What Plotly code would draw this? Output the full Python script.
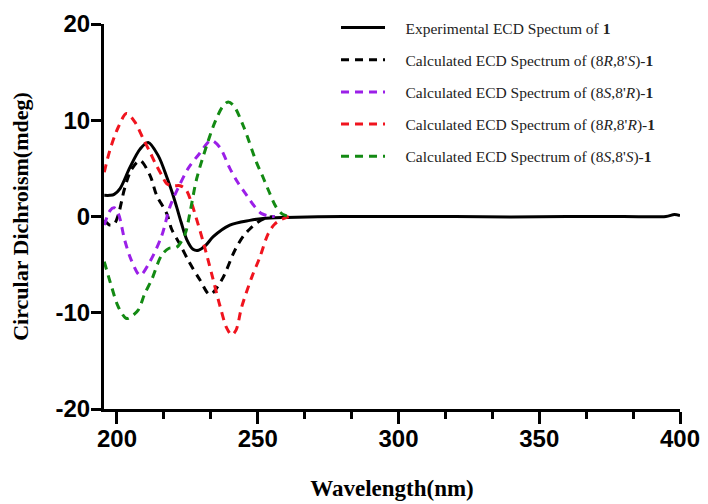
import plotly.graph_objects as go

# ---- data ----
wl_exp = [195.5, 197.5, 199.0, 201.1, 204.6, 208.2, 211.1, 214.7, 217.7, 219.5, 221.2, 222.8, 224.8,
          227.0, 229.0, 231.5, 234.2, 240.1, 247.2, 251.9, 260, 280, 300, 320, 340, 360, 380, 395, 398, 400]
cd_exp = [2.2, 2.2, 2.3, 2.9, 5.1, 7.0, 7.7, 6.3, 4.1, 2.6, 1.0, -0.6, -2.4,
          -3.4, -3.5, -3.0, -2.1, -0.9, -0.4, -0.2, -0.1, 0.0, 0.0, 0.0, -0.05, 0.0, 0.0, 0.0, 0.2, 0.1]

wl_rs = [195.5, 197.5, 199.0, 200.5, 202.8, 205.2, 208.2, 211.7, 214.1, 217.7, 219.4, 222.4, 225.6,
         229.5, 233.0, 237.2, 241.9, 245.0, 247.2, 250.0, 253.0, 256.0]
cd_rs = [-0.4, -0.9, -0.8, 0.2, 3.0, 4.9, 5.8, 4.3, 2.2, 0.3, -1.3, -2.9, -4.7,
         -6.6, -8.1, -6.6, -3.5, -2.0, -1.3, -0.6, -0.15, 0.0]

wl_sr = [195.5, 197.5, 199.0, 200.5, 202.8, 205.2, 208.2, 211.7, 215.9, 218.8, 221.8, 225.3, 229.5,
         233.4, 236.5, 240.1, 243.0, 246.1, 249.0, 251.4, 254.0, 256.0]
cd_sr = [-0.9, 0.6, 0.9, 0.3, -2.5, -4.6, -6.1, -4.7, -2.0, 1.0, 3.0, 5.0, 6.6,
         7.9, 7.2, 5.0, 3.5, 2.2, 1.0, 0.3, 0.05, 0.0]

wl_rr = [195.5, 197.5, 200.5, 203.4, 206.4, 209.3, 211.7, 213.5, 215.9, 217.7, 220.0, 222.4, 224.5,
         226.5, 228.0, 230.7, 233.6, 236.6, 239.0, 240.8, 242.3, 244.3, 247.9, 250.8, 253.7, 256.0,
         258.5, 261.0]
cd_rr = [4.6, 6.9, 9.3, 10.7, 9.8, 8.1, 6.7, 5.6, 4.3, 3.4, 3.2, 3.2, 2.8,
         1.4, 0.0, -2.7, -5.9, -9.3, -11.6, -12.3, -11.8, -9.4, -6.3, -4.2, -1.8, -0.8,
         -0.3, 0.0]

wl_ss = [195.5, 198.1, 200.5, 203.4, 205.5, 207.6, 209.9, 212.3, 215.9, 218.5, 221.2, 224.2, 226.0,
         228.3, 231.9, 234.8, 237.5, 239.5, 241.5, 244.9, 249.6, 252.0, 254.0, 256.5, 259.0, 261.5]
cd_ss = [-4.7, -7.3, -9.4, -10.6, -10.3, -9.7, -8.0, -6.6, -4.0, -3.3, -3.2, -1.8, 0.5,
         3.9, 7.4, 9.8, 11.4, 11.9, 11.5, 9.4, 5.6, 4.0, 2.6, 1.0, 0.2, 0.0]

pad = "\u00a0" * 4
names = [
    pad + "Experimental ECD Spectum of <b>1</b>",
    pad + "Calculated ECD Spectrum of (8<i>R</i>,8'<i>S</i>)-<b>1</b>",
    pad + "Calculated ECD Spectrum of (8<i>S</i>,8'<i>R</i>)-<b>1</b>",
    pad + "Calculated ECD Spectrum of (8<i>R</i>,8'<i>R</i>)-<b>1</b>",
    pad + "Calculated ECD Spectrum of (8<i>S</i>,8'<i>S</i>)-<b>1</b>",
]
colors = ["#000000", "#000000", "#9B1FE8", "#F0141E", "#138A13"]

y_ticks = [-20, -10, 0, 10, 20]
y_ticktext = ["-20", "-10", "0", "10", "20"]

fig = go.Figure()

series = [(wl_exp, cd_exp), (wl_rs, cd_rs), (wl_sr, cd_sr), (wl_rr, cd_rr), (wl_ss, cd_ss)]
for i, (xs, ys) in enumerate(series):
    fig.add_trace(go.Scatter(
        x=xs, y=ys, mode="lines", name=names[i],
        legendgroup=str(i), legendrank=i + 1,
        line=dict(color=colors[i], width=3, shape="spline", smoothing=0.9,
                  dash="solid" if i == 0 else "8px,6px"),
    ))

# page has an 8px body margin: figure 700x496 placed at (8,8)
fig.update_layout(
    width=700, height=496,
    margin=dict(l=96, r=28, t=0, b=95, autoexpand=False),
    plot_bgcolor="white", paper_bgcolor="white",
    showlegend=True,
    legend=dict(
        x=0.4028, y=0.9925, xanchor="left", yanchor="top",
        font=dict(family="Liberation Serif", size=15.5, color="#222222"),
        traceorder="grouped", tracegroupgap=9, itemwidth=44,
        bgcolor="rgba(0,0,0,0)",
    ),
    xaxis=dict(
        range=[195.4, 400], tickmode="linear", tick0=200, dtick=50,
        showgrid=False, zeroline=False, automargin=False,
        showline=True, linecolor="black", linewidth=3,
        ticks="outside", ticklen=12, tickwidth=3, tickcolor="black",
        ticklabelstandoff=-6,
        minor=dict(dtick=50 / 3, tick0=200, ticks="outside", ticklen=7, tickwidth=3,
                   tickcolor="black", showgrid=False),
        tickfont=dict(family="Liberation Sans", size=24, color="black", weight="bold"),
        title=dict(text="Wavelength(nm)", standoff=30,
                   font=dict(family="Liberation Serif", size=23, color="black", weight="bold")),
    ),
    yaxis=dict(
        range=[-20, 20], tickvals=y_ticks, ticktext=y_ticktext,
        domain=[0, 385 / 401],
        showgrid=False, zeroline=False, automargin=False,
        showline=True, linecolor="black", linewidth=3,
        ticks="outside", ticklen=10, tickwidth=3, tickcolor="black",
        ticklabelstandoff=-4,
        tickfont=dict(family="Liberation Sans", size=24, color="black", weight="bold"),
        title=dict(text="Circular Dichroism(mdeg)", standoff=22,
                   font=dict(family="Liberation Serif", size=22, color="black", weight="bold")),
    ),
)

fig.write_html("out.html")
